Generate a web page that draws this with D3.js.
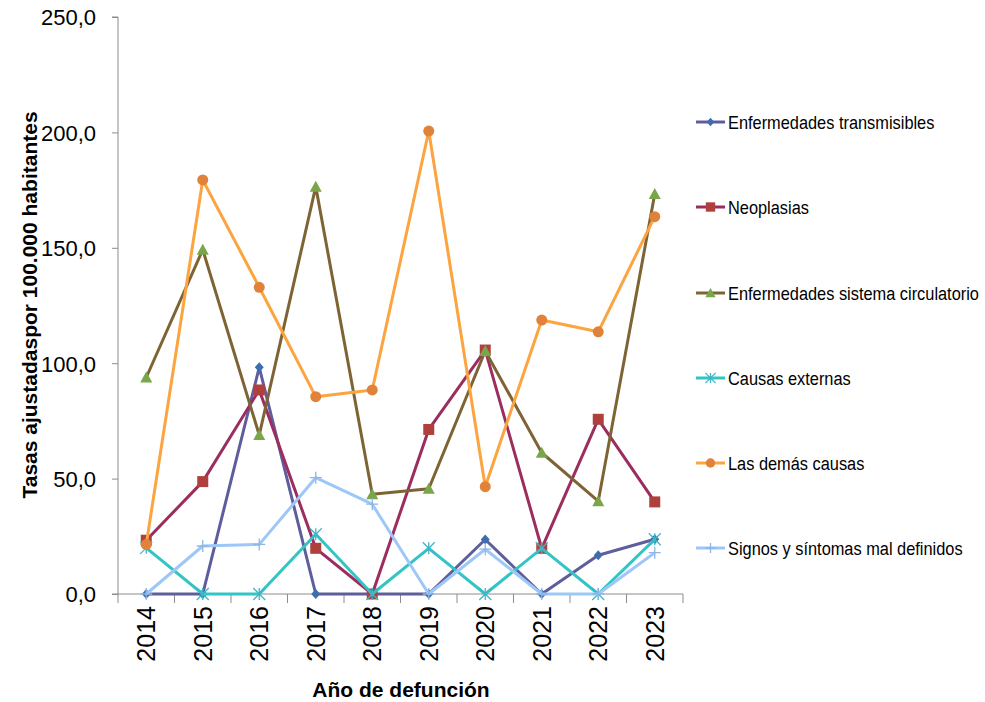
<!DOCTYPE html>
<html><head><meta charset="utf-8">
<script src="https://cdn.jsdelivr.net/npm/d3@7"></script>
<style>body{margin:0;background:#fff}svg{display:block}</style>
</head><body>
<svg id="c" width="985" height="702"></svg>
<script>
const years = ["2014","2015","2016","2017","2018","2019","2020","2021","2022","2023"];
const seriesNames = ["Enfermedades transmisibles","Neoplasias","Enfermedades sistema circulatorio","Causas externas","Las demás causas","Signos y síntomas mal definidos"];
const transmisibles = [0,0,98.2,0,0,0,23.6,0,16.8,23.7];
const neoplasias = [23.3,48.7,88.4,19.8,0,71.3,105.7,19.8,75.7,39.9];
const circulatorio = [93.8,149.2,68.9,176.5,43.2,45.6,105.3,61.2,40.2,173.3];
const externas = [20.0,0,0,25.9,0,19.8,0,19.8,0,23.7];
const demas = [21.5,179.4,132.9,85.5,88.4,200.6,46.5,118.7,113.6,163.5];
const signos = [0,20.8,21.5,50.4,38.9,0,19.4,0,0,17.9];
const yTicks = [0,50,100,150,200,250];

const values = [transmisibles, neoplasias, circulatorio, externas, demas, signos];
const lineColors = ["#5E5E9C","#9B2D5F","#7E6434","#33C4C4","#FCA43F","#9CC7F7"];
const markerColors = ["#3E6DAE","#B0403E","#7AA64A","#3FB6C8","#E0823A","#8DB6E6"];
const markerTypes = ["diamond","square","triangle","asterisk","circle","plus"];

const svg = d3.select("#c");
const font = "'Liberation Sans',Arial,sans-serif";
const x = d3.scaleBand().domain(years).range([118,683]);
const y = d3.scaleLinear().domain([0,250]).range([594,17]);

// axes
const gy = svg.append("g").attr("transform","translate(118,0)")
  .call(d3.axisLeft(y).tickValues(yTicks).tickSize(6).tickFormat(d=>d3.format(".1f")(d).replace(".",",")));
gy.select(".domain").attr("stroke","#8c8c8c").attr("d","M-6,17H0V594H-6");
gy.selectAll(".tick line").attr("stroke","#8c8c8c");
gy.selectAll(".tick text").attr("font-family",font).attr("font-size",22).attr("fill","#000").attr("x",-22).attr("dy","0.36em");

const gx = svg.append("g").attr("transform","translate(0,594)");
gx.append("line").attr("x1",118).attr("x2",683).attr("stroke","#8c8c8c");
const bounds = years.map(d=>x(d)).concat([683]);
gx.selectAll("line.t").data(bounds).enter().append("line").attr("class","t")
  .attr("x1",d=>d).attr("x2",d=>d).attr("y1",0).attr("y2",9).attr("stroke","#8c8c8c");
gx.selectAll("text").data(years).enter().append("text")
  .attr("transform",d=>`translate(${x(d)+x.bandwidth()/2+9},${12}) rotate(-90)`)
  .attr("text-anchor","end").attr("font-family",font).attr("font-size",25).text(d=>d);

svg.append("text").attr("transform","translate(37,305) rotate(-90)").attr("text-anchor","middle")
  .attr("font-family",font).attr("font-weight","bold").attr("font-size",21).text("Tasas ajustadaspor 100.000 habitantes");
svg.append("text").attr("x",401).attr("y",697).attr("text-anchor","middle")
  .attr("font-family",font).attr("font-weight","bold").attr("font-size",21).text("Año de defunción");

function marker(g, type, color, cx, cy, legend){
  const s = legend?0.85:1;
  if(type==="diamond") g.append("path").attr("d",`M${cx},${cy-5*s}L${cx+4.5*s},${cy}L${cx},${cy+5*s}L${cx-4.5*s},${cy}Z`).attr("fill",color);
  else if(type==="square") g.append("rect").attr("x",cx-5.5*s).attr("y",cy-5.5*s).attr("width",11*s).attr("height",11*s).attr("fill",color);
  else if(type==="triangle") g.append("path").attr("d",`M${cx},${cy-6*s}L${cx+6*s},${cy+5*s}L${cx-6*s},${cy+5*s}Z`).attr("fill",color);
  else if(type==="circle") g.append("circle").attr("cx",cx).attr("cy",cy).attr("r",5.5*s).attr("fill",color);
  else if(type==="asterisk"){
    const r=6*s;
    g.append("path").attr("d",`M${cx-r},${cy-r}L${cx+r},${cy+r}M${cx-r},${cy+r}L${cx+r},${cy-r}M${cx},${cy-r}V${cy+r}`).attr("stroke",color).attr("stroke-width",1.3);
  } else if(type==="plus"){
    const r=6*s;
    g.append("path").attr("d",`M${cx-r},${cy}H${cx+r}M${cx},${cy-r}V${cy+r}`).attr("stroke",color).attr("stroke-width",1.3);
  }
}

const line = d3.line().x((d,i)=>x(years[i])+x.bandwidth()/2).y(d=>y(d));
values.forEach((vals,k)=>{
  const g = svg.append("g");
  g.append("path").attr("d",line(vals)).attr("fill","none").attr("stroke",lineColors[k]).attr("stroke-width",3).attr("stroke-linejoin","round");
  vals.forEach((v,i)=>marker(g, markerTypes[k], markerColors[k], x(years[i])+x.bandwidth()/2, y(v), false));
});

// legend
const legY = [122,207,293,378,463,548];
seriesNames.forEach((n,k)=>{
  const g = svg.append("g");
  g.append("line").attr("x1",696).attr("x2",725).attr("y1",legY[k]).attr("y2",legY[k]).attr("stroke",lineColors[k]).attr("stroke-width",3);
  marker(g, markerTypes[k], markerColors[k], 710.5, legY[k], true);
  g.append("text").attr("transform",`translate(728,${legY[k]+7}) scale(0.885,1)`).attr("font-family",font).attr("font-size",18.5).text(n);
});
</script>
</body></html>
